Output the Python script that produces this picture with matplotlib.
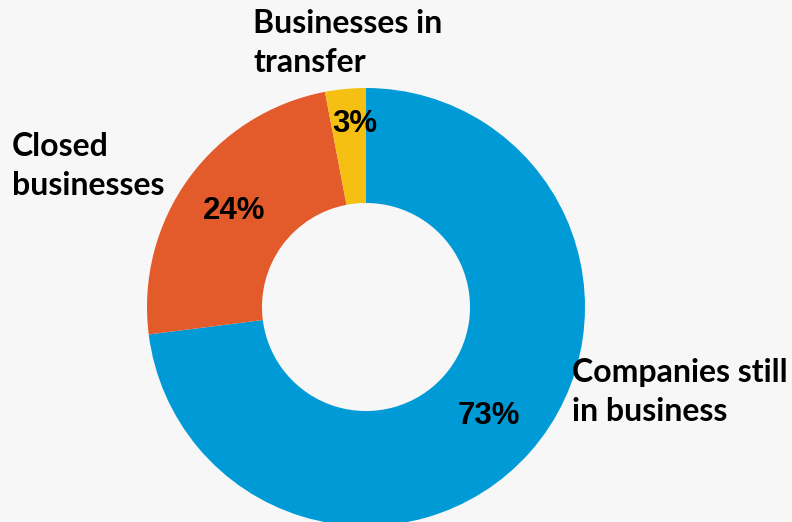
import matplotlib.pyplot as plt
import numpy as np

labels = ['Companies still\nin business', 'Closed\nbusinesses', 'Businesses in\ntransfer']
shares = [73, 24, 3]
colors = ['#009BD6', '#E35A2B', '#F5C011']

bg = '#F7F7F7'
fig = plt.figure(figsize=(7.92, 5.22), dpi=100, facecolor=bg)
ax = fig.add_axes([0, 0, 1, 1])
ax.set_facecolor(bg)

cx, cy, R = 366, 215, 219
wedges, _ = ax.pie(shares, colors=colors, startangle=90, counterclock=False,
                   center=(cx, cy), radius=R, frame=True,
                   wedgeprops=dict(width=R * 0.525, linewidth=0))
ax.set_xlim(0, 792)
ax.set_ylim(0, 522)
ax.set_aspect('equal')
ax.axis('off')

# percentage labels at the middle of each wedge
pct_r = [0.75, 0.745, 0.84]
pct_dx = [0, 0, 6]
for w, v, r, dx in zip(wedges, shares, pct_r, pct_dx):
    ang = np.deg2rad((w.theta1 + w.theta2) / 2)
    ax.text(cx + r * R * np.cos(ang) + dx, cy + r * R * np.sin(ang), f'{v}%',
            ha='center', va='center', fontsize=22.5, fontweight='bold',
            family='Liberation Sans', color='black')

# category names outside the ring
lab_pos = [(572, 130, 'left'), (12, 356, 'left'), (253, 479, 'left')]
for txt, (x, y, ha) in zip(labels, lab_pos):
    ax.text(x, y, txt, ha=ha, va='center', fontsize=23, fontweight='bold',
            family='Lato', color='black', linespacing=1.45)

fig.savefig('out.png', dpi=100, facecolor=bg)
